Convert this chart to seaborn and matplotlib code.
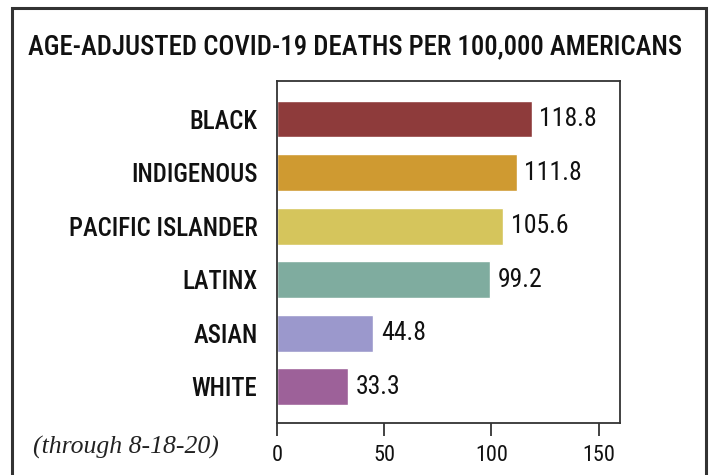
import matplotlib
matplotlib.use("Agg")
import matplotlib.pyplot as plt
from matplotlib import font_manager
from matplotlib.patches import Rectangle
import seaborn as sns
import pandas as pd

groups = ["BLACK", "INDIGENOUS", "PACIFIC ISLANDER", "LATINX", "ASIAN", "WHITE"]
deaths = [118.8, 111.8, 105.6, 99.2, 44.8, 33.3]
bar_colors = ["#8e3b3b", "#cf9a31", "#d5c55c", "#7fac9f", "#9b98cc", "#9d6199"]
x_ticks = [0, 50, 100, 150]

names = {f.name for f in font_manager.fontManager.ttflist}
cond = "DejaVu Sans"
for cand in ["Roboto Condensed", "Liberation Sans Narrow", "Open Sans Condensed", "DejaVu Sans Condensed"]:
    if cand in names:
        cond = cand
        break

sns.set_theme(style="white")
plt.rcParams["font.family"] = [cond, "DejaVu Sans"]

df = pd.DataFrame({"group": groups, "deaths": deaths})

fig = plt.figure(figsize=(7.11, 4.75), dpi=100)
ax = fig.add_axes([277 / 711, 1 - 423 / 475, (620 - 277) / 711, (423 - 81) / 475])

sns.barplot(data=df, y="group", x="deaths", hue="group", palette=bar_colors,
            legend=False, width=0.69, saturation=1, ax=ax, order=groups)

ax.set_xlim(0, 160)
ax.set_ylim(5.68, -0.71)
ax.set_xticks(x_ticks)
ax.set_xticklabels([str(t) for t in x_ticks], fontsize=16)
ax.set_xlabel("")
ax.set_ylabel("")
ax.tick_params(axis="x", direction="out", length=9, width=1.2, color="#222222",
               bottom=True, pad=7, labelcolor="#111111")
ax.tick_params(axis="y", length=0, pad=14, labelsize=17.8, labelcolor="#111111")
for lbl in ax.get_yticklabels():
    lbl.set_fontweight("medium")
for s in ax.spines.values():
    s.set_visible(True)
    s.set_color("#333333")
    s.set_linewidth(1.3)

for i, v in enumerate(deaths):
    ax.text(v + 3.6, i, f"{v:.1f}", va="center", ha="left", fontsize=18.5,
            color="#111111")

fig.text(0.5, 1 - 47 / 475, "AGE-ADJUSTED COVID-19 DEATHS PER 100,000 AMERICANS",
         ha="center", va="center", fontsize=19.3, fontweight="medium", color="#111111")
fig.text(33 / 711, 1 - 447 / 475, "(through 8-18-20)", ha="left", va="center",
         fontsize=18.5, style="italic", family=["Liberation Serif", "DejaVu Serif"], color="#222222")

frame = Rectangle((12 / 711, -0.05), (706 - 12) / 711, 1.05 - 8 / 475,
                  transform=fig.transFigure, fill=False, edgecolor="#333333", linewidth=2.2)
fig.patches.append(frame)

fig.savefig("out.png", dpi=100, facecolor="white")
